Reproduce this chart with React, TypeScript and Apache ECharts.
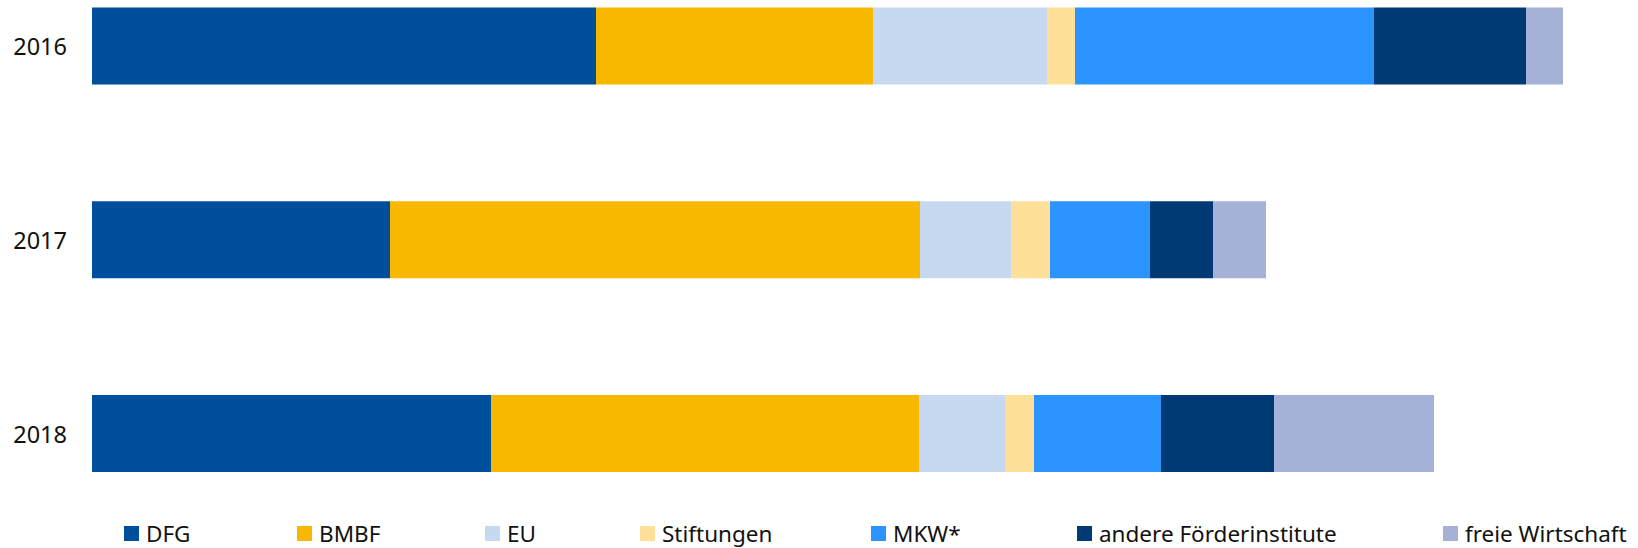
import React, { useEffect, useRef } from "react";
import * as echarts from "echarts";

const years = ["2016", "2017", "2018"];
const seriesNames = ["DFG", "BMBF", "EU", "Stiftungen", "MKW*", "andere Förderinstitute", "freie Wirtschaft"];
const colors = ["#004F9C", "#F9B800", "#C7D9F0", "#FEE098", "#2B94FF", "#003A75", "#A5B1D7"];

// values per series for 2016, 2017, 2018 (arbitrary units)
const dfg = [50.4, 29.8, 39.9];
const bmbf = [27.7, 53.0, 42.8];
const eu = [17.4, 9.1, 8.6];
const stiftungen = [2.8, 3.9, 2.9];
const mkw = [29.9, 10.0, 12.7];
const andere = [15.2, 6.3, 11.3];
const freie = [3.7, 5.3, 16.0];

const allValues = [dfg, bmbf, eu, stiftungen, mkw, andere, freie];
const legendLefts = [124, 297, 485, 640, 871, 1077, 1443];

export default function App() {
  const ref = useRef<HTMLDivElement>(null);
  useEffect(() => {
    if (!ref.current) return;
    const chart = echarts.init(ref.current, undefined, { renderer: "svg" });
    const font = "'Noto Sans', sans-serif";
    chart.setOption({
      animation: false,
      backgroundColor: "#ffffff",
      grid: { left: 92, right: 1, top: 46, bottom: 114.5, containLabel: false },
      xAxis: { type: "value", min: 0, max: 154.5, show: false },
      yAxis: {
        type: "category",
        data: years,
        inverse: true,
        boundaryGap: false,
        axisLine: { show: false },
        axisTick: { show: false },
        splitLine: { show: false },
        axisLabel: { color: "#111111", fontSize: 23.5, fontFamily: font, margin: 25 },
      },
      legend: seriesNames.map((n, i) => ({
        data: [n],
        left: legendLefts[i],
        top: 522,
        padding: 0,
        itemWidth: 15,
        itemHeight: 15,
        itemGap: 0,
        icon: "rect",
        selectedMode: false,
        textStyle: { fontSize: 22.5, fontFamily: font, color: "#111111", padding: [0, 0, 0, 2] },
      })),
      series: seriesNames.map((n, i) => ({
        name: n,
        type: "bar",
        stack: "total",
        barWidth: 77,
        clip: false,
        itemStyle: { color: colors[i] },
        data: allValues[i],
      })),
    });
    return () => chart.dispose();
  }, []);
  return (
    <div
      ref={ref}
      style={{ position: "fixed", left: 0, top: 0, width: 1638, height: 548 }}
    />
  );
}
